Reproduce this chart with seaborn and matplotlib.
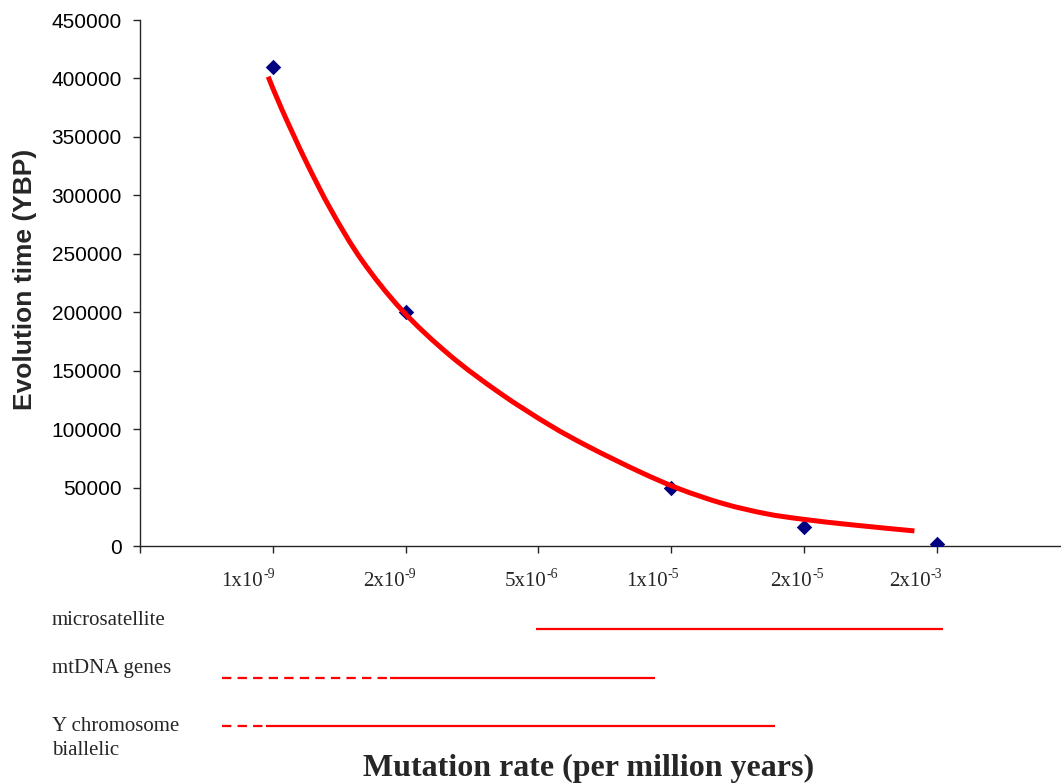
import matplotlib
matplotlib.use("Agg")
import matplotlib.pyplot as plt
import matplotlib.transforms as mtransforms
from matplotlib.path import Path
from matplotlib.patches import PathPatch
from matplotlib.ticker import StrMethodFormatter
import numpy as np
import pandas as pd
import seaborn as sns

# ---- data -------------------------------------------------------------
# mutation-rate classes on the x axis (mantissa/base, exponent)
rate_base = ["1x10", "2x10", "5x10", "1x10", "2x10", "2x10"]
rate_exp = ["-9", "-9", "-6", "-5", "-5", "-3"]

# observed evolution times (years before present)
point_x = [1, 2, 4, 5, 6]
evolution_time = [410000, 200000, 50000, 16000, 2000]

# hand-fitted decay curve through the observations
curve_x = [0.965, 1.07, 1.25, 1.44, 1.67, 1.97, 2.33, 2.71, 3.08, 3.38,
           3.76, 4.06, 4.39, 4.71, 4.99, 5.36, 5.83]
curve_y = [401500, 373000, 328900, 287100, 244500, 202000, 163400, 130800,
           103700, 84800, 63600, 48900, 36300, 27700, 22900, 18100, 12900]

# applicable mutation-rate range of each marker system
range_names = ["microsatellite", "mtDNA genes", "Y chromosome\nbiallelic"]
range_dash_start = [None, 0.62, 0.62]
range_solid_start = [2.985, 1.885, 0.945]
range_solid_end = [6.045, 3.88, 4.78]

# ---- layout -----------------------------------------------------------
W, H = 1061, 784
PX_PER_UNIT = 132.83
tick_label_x = [0.925, 1.99, 3.06, 3.97, 5.06, 5.95]   # base/exponent joint
range_row_y = [29, 78, 125.5]          # strip axes units (pixels below 600)
range_label_baseline = [625, 673, 755]

sns.set_style("ticks")
plt.rcParams["font.family"] = ["Liberation Sans", "DejaVu Sans"]
SERIF = ["Liberation Serif", "DejaVu Serif"]
AXIS_COLOR = "#262626"
RED = "#ff0000"

fig = plt.figure(figsize=(W / 100, H / 100), dpi=100)
left = 140 / W
width = 7 * PX_PER_UNIT / W
ax = fig.add_axes([left, 1 - 546 / H, width, 526 / H])

points_df = pd.DataFrame({"rate": point_x, "years": evolution_time})
sns.scatterplot(data=points_df, x="rate", y="years", marker="D", s=62,
                color="#000080", linewidth=0, ax=ax, zorder=3)


def smooth_path(xs, ys):
    """Catmull-Rom curve through the given points as cubic Bezier segments."""
    p = np.column_stack([xs, ys]).astype(float)
    ext = np.vstack([p[0], p, p[-1]])
    verts = [p[0]]
    codes = [Path.MOVETO]
    for i in range(1, len(ext) - 2):
        c1 = ext[i] + (ext[i + 1] - ext[i - 1]) / 6.0
        c2 = ext[i + 1] - (ext[i + 2] - ext[i]) / 6.0
        verts += [c1, c2, ext[i + 1]]
        codes += [Path.CURVE4] * 3
    return Path(verts, codes)


ax.add_patch(PathPatch(smooth_path(curve_x, curve_y), fill=False,
                       edgecolor=RED, linewidth=3.6, capstyle="butt",
                       zorder=4))

ax.set_xlim(0, 7)
ax.set_ylim(0, 450000)
ax.set_xticks(range(0, 8))
ax.set_xticklabels([])
ax.set_yticks(range(0, 450001, 50000))
ax.yaxis.set_major_formatter(StrMethodFormatter("{x:.0f}"))
ax.tick_params(axis="both", direction="out", length=5, width=1.0,
               color=AXIS_COLOR)
ax.tick_params(axis="y", labelsize=15, pad=8, labelcolor="black")
sns.despine(ax=ax)
for side in ("left", "bottom"):
    ax.spines[side].set_color(AXIS_COLOR)
    ax.spines[side].set_linewidth(1.0)
ax.set_xlabel("")
ax.set_ylabel("Evolution time (YBP)", fontsize=19, fontweight="bold",
              va="center")
ax.yaxis.set_label_coords((25 - 140) / (7 * PX_PER_UNIT), 0.506)

# category labels under the axis: base text plus raised exponent
trans = mtransforms.blended_transform_factory(ax.transData, ax.transAxes)
label_y = (546 - 586) / 526
for lx, base, exp in zip(tick_label_x, rate_base, rate_exp):
    ax.text(lx, label_y, base, transform=trans, ha="right", va="baseline",
            fontsize=15, family=SERIF, clip_on=False)
    ax.annotate(exp, xy=(lx, label_y), xycoords=trans,
                xytext=(0.3, 5.5), textcoords="offset points",
                ha="left", va="baseline", fontsize=10, family=SERIF,
                annotation_clip=False)

# strip with the marker-system ranges
ax2 = fig.add_axes([left, 1 - 760 / H, width, 160 / H])
ax2.set_xlim(0, 7)
ax2.set_ylim(160, 0)
ax2.axis("off")
for row, d0, s0, s1 in zip(range_row_y, range_dash_start,
                           range_solid_start, range_solid_end):
    if d0 is not None:
        ax2.plot([d0, s0 - 0.02], [row, row], color=RED, linewidth=1.6,
                 dashes=(4.2, 2.8))
    ax2.plot([s0, s1], [row, row], color=RED, linewidth=1.6,
             solid_capstyle="butt")

for name, base in zip(range_names, range_label_baseline):
    fig.text(52 / W, 1 - base / H, name, ha="left", va="baseline",
             fontsize=15, family=SERIF, linespacing=1.35)

fig.text(589 / W, 1 - 768 / H, "Mutation rate (per million years)",
         ha="center", va="center", fontsize=23, fontweight="bold",
         family=SERIF)

fig.savefig("out.png", dpi=100)
